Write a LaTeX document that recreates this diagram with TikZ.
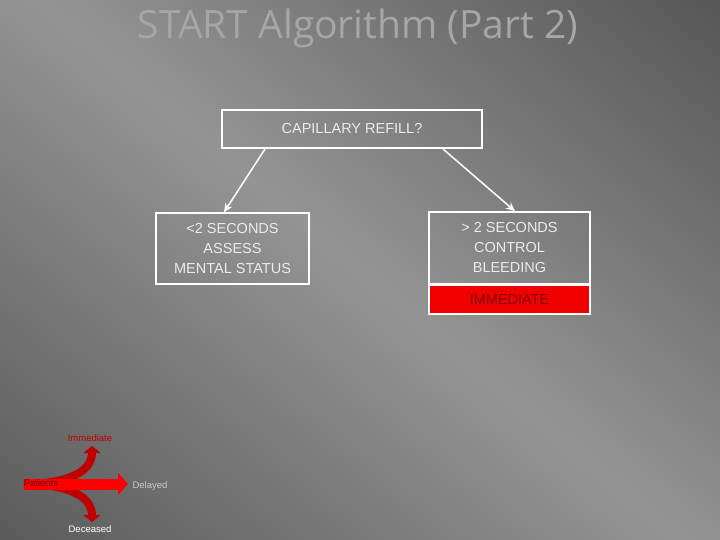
\documentclass[tikz,border=0pt]{standalone}
\usepackage{fontspec}
\setmainfont{Liberation Sans}
\newfontfamily\titlefont{Open Sans}
\usetikzlibrary{arrows.meta}
\begin{document}
\begin{tikzpicture}[x=1pt,y=-1pt,
  box/.style={draw=white,line width=1.5pt,text=white!92!black,font=\fontsize{14.5}{20}\selectfont,align=center,inner sep=0pt},
  conn/.style={draw=white,line width=1.5pt,-{Stealth[length=9pt,width=8pt]}},
  lab/.style={font=\fontsize{9.5}{10}\selectfont}]
\useasboundingbox (0,0) rectangle (720,540);
\begin{scope}
\clip (0,0) rectangle (720,540);
\shade[left color=black!70,right color=black!68,middle color=black!42,shading angle=-40] (-200,-200) rectangle (920,740);
\end{scope}
\node[font=\titlefont\fontsize{39}{40}\selectfont,text=black!35] (title) at (358,28) {START Algorithm (Part 2)};
\node[box,minimum width=260,minimum height=38] (cap) at (352,129) {CAPILLARY REFILL?};
\node[box,minimum width=153,minimum height=71] (lt) at (232.5,248.5) {<2 SECONDS\\ASSESS\\MENTAL STATUS};
\node[box,minimum width=161,minimum height=72] (rt) at (509.5,248) {> 2 SECONDS\\CONTROL\\BLEEDING};
\node[draw=white,line width=1.5pt,fill=red!95!black,minimum width=161,minimum height=29,inner sep=0pt,text=red!50!black,font=\fontsize{14.5}{16}\selectfont] (imm) at (509.5,299.5) {IMMEDIATE};
\coordinate (c1) at (265,149);
\coordinate (c2) at (443,149);
\draw[conn] (c1) -- (lt.north -| 224,0);
\draw[conn] (c2) -- (rt.north -| 515,0);
% icon
\coordinate (ps) at (24,484);
\coordinate (pd) at (128,484);
\coordinate (pi) at (92,446);
\coordinate (pc) at (92,522);
\draw[red,line width=11pt,-{Triangle[length=10pt,width=22pt]}] (ps) -- (pd);
\draw[red!75!black,line width=8pt,-{Triangle[length=7pt,width=17pt]}] (ps) .. controls (60,484) and (92,475) .. (pi);
\draw[red!75!black,line width=8pt,-{Triangle[length=7pt,width=17pt]}] (ps) .. controls (60,484) and (92,493) .. (pc);
\draw[red,line width=11pt] (ps) -- (110,484);
\node[lab,text=red!75!black] (lim) at (90,438) {Immediate};
\node[lab,text=red!40!black] (lpa) at (41,483) {Patients};
\node[lab,text=white!80!black] (lde) at (150,486) {Delayed};
\node[lab,text=white] (ldc) at (90,529) {Deceased};
\end{tikzpicture}
\end{document}
